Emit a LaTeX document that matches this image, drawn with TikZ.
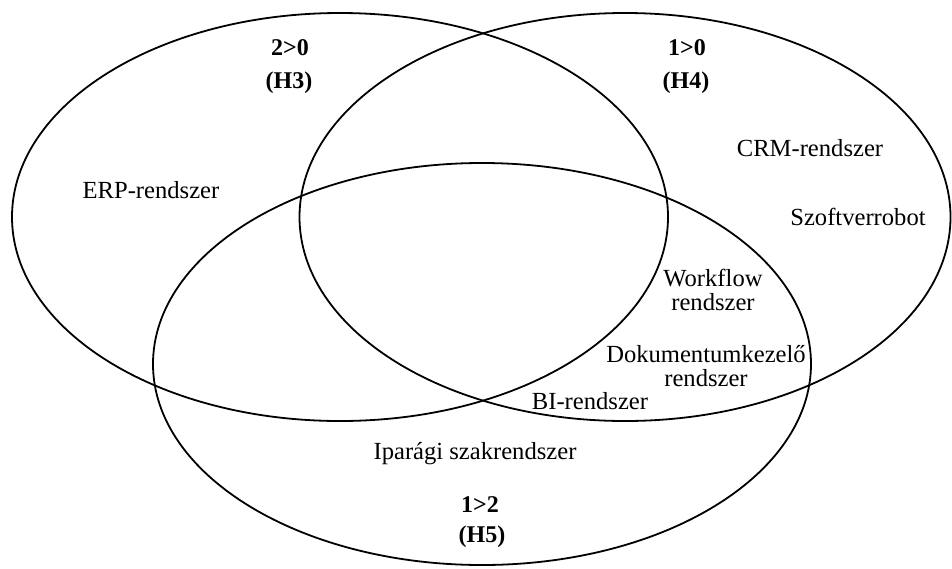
\documentclass[tikz,border=0pt]{standalone}
\usepackage{fontspec}
\setmainfont{Liberation Serif}
\usetikzlibrary{positioning}

\begin{document}
\begin{tikzpicture}[
    x=0.5pt, y=-0.5pt,
    set/.style={line width=0.9pt},
    lbl/.style={inner sep=0pt, align=center, font=\fontsize{12.3}{11.8}\selectfont},
    hyp/.style={inner sep=0pt, font=\fontsize{12}{14}\selectfont\bfseries}
]
\useasboundingbox (0,0) rectangle (952,568);

% Sets
\draw[set] (340,217) ellipse [x radius=164pt, y radius=102pt];
\draw[set] (625,217) ellipse [x radius=162.75pt, y radius=102pt];
\draw[set] (482,364) ellipse [x radius=164.5pt, y radius=100.5pt];

% Hypotheses
\node[hyp] (h3a) at (290,48) {2>0};
\node[hyp] (h3b) at (289,83) {(H3)};
\node[hyp] (h4a) at (687,48) {1>0};
\node[hyp] (h4b) at (686,83) {(H4)};
\node[hyp] (h5a) at (480,505) {1>2};
\node[hyp] (h5b) at (482,537) {(H5)};

% Systems
\node[lbl] (erp) at (151,190) {ERP-rendszer};
\node[lbl] (crm) at (810,148) {CRM-rendszer};
\node[lbl] (rpa) at (858,217) {Szoftverrobot};
\node[lbl] (wf) at (713,290) {Workflow\\rendszer};
\node[lbl] (dms) at (706,366) {Dokumentumkezelő\\rendszer};
\node[lbl] (bi) at (590,401) {BI-rendszer};
\node[lbl] (ind) at (475,454) {Iparági szakrendszer};

\end{tikzpicture}
\end{document}
